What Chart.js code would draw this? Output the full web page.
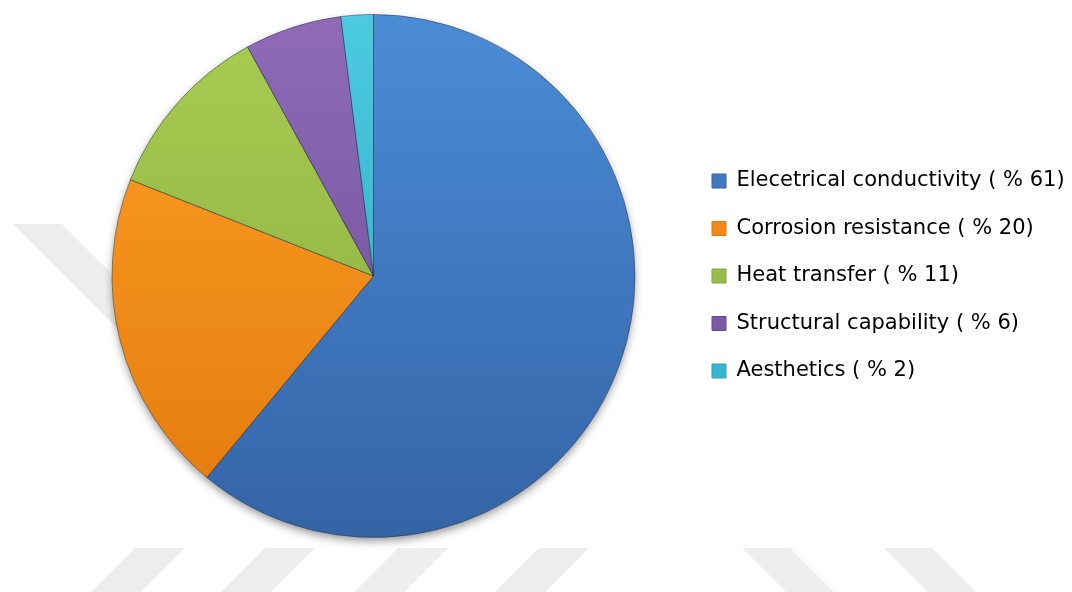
<!DOCTYPE html>
<html lang="en">
<head>
    <meta charset="UTF-8">
    <title>Property Shares</title>
    <script src="https://cdn.jsdelivr.net/npm/chart.js"></script>
    <style>
        body {
            margin: 0;
            background: #ffffff;
        }
        #pieChart {
            display: block;
        }
    </style>
</head>
<body>
    <canvas id="pieChart" width="1072" height="592"></canvas>

    <script>
        // Shares in percent
        const categories = [
            'Elecetrical conductivity',
            'Corrosion resistance',
            'Heat transfer',
            'Structural capability',
            'Aesthetics'
        ];
        const shares = [61, 20, 11, 6, 2];
        const labels = categories.map((name, i) => `${name} ( % ${shares[i]})`);

        // top / bottom shade of each slice
        const topColors = ['#4b8cd7', '#ffa126', '#a9cc52', '#8f6bb8', '#4ccae0'];
        const bottomColors = ['#3464a6', '#e2790c', '#86aa3c', '#684a90', '#2aa2bf'];
        const legendColors = ['#4279c2', '#f38a18', '#98bd48', '#7b5aa4', '#38b5d0'];

        // Slice fill: vertical gradient across the chart area
        function sliceFill(ctx) {
            const area = ctx.chart.chartArea;
            const i = ctx.dataIndex;
            if (!area) return legendColors[i];
            const g = ctx.chart.ctx.createLinearGradient(0, area.top, 0, area.bottom);
            g.addColorStop(0, topColors[i]);
            g.addColorStop(1, bottomColors[i]);
            return g;
        }

        // Light grey diagonal stripes in the background
        const stripesPlugin = {
            id: 'stripes',
            beforeDraw(chart) {
                const c = chart.ctx;
                c.save();
                c.fillStyle = '#eeeeee';
                const quad = (pts) => {
                    c.beginPath();
                    c.moveTo(pts[0][0], pts[0][1]);
                    pts.slice(1).forEach(p => c.lineTo(p[0], p[1]));
                    c.closePath();
                    c.fill();
                };
                // "/" stripes along the bottom edge
                [135, 265, 398, 539].forEach(x => {
                    quad([[x, 548], [x + 50, 548], [x + 5, 593], [x - 45, 593]]);
                });
                // "\" stripes along the bottom edge
                [742, 884].forEach(x => {
                    quad([[x, 548], [x + 48, 548], [x + 93, 593], [x + 45, 593]]);
                });
                // stripe on the left, mostly behind the pie
                quad([[13, 224], [62, 224], [170, 332], [121, 332]]);
                c.restore();
            }
        };

        // Soft drop shadow under the pie
        const shadowPlugin = {
            id: 'pieShadow',
            beforeDatasetsDraw(chart) {
                const arc = chart.getDatasetMeta(0).data[0];
                if (!arc) return;
                const c = chart.ctx;
                c.save();
                c.shadowColor = 'rgba(0, 0, 0, 0.45)';
                c.shadowBlur = 10;
                c.shadowOffsetY = 4;
                c.fillStyle = '#3a5f90';
                c.beginPath();
                c.arc(arc.x, arc.y, arc.outerRadius - 1, 0, Math.PI * 2);
                c.fill();
                c.restore();
            }
        };

        // Fixed legend column width so the pie keeps its place
        const legendWidthPlugin = {
            id: 'legendWidth',
            beforeInit(chart) {
                const legend = chart.legend;
                if (!legend) return;
                const fit = legend.fit;
                legend.fit = function () {
                    fit.call(this);
                    this.width = 386.5;
                };
            }
        };

        new Chart(document.getElementById('pieChart'), {
            type: 'pie',
            data: {
                labels: labels,
                datasets: [{
                    data: shares,
                    backgroundColor: sliceFill,
                    borderColor: 'rgba(30, 40, 60, 0.45)',
                    borderWidth: 1,
                    hoverOffset: 0
                }]
            },
            options: {
                responsive: false,
                animation: false,
                layout: {
                    padding: { left: 61.5, top: 14, bottom: 54, right: 0 }
                },
                plugins: {
                    tooltip: { enabled: false },
                    legend: {
                        position: 'right',
                        align: 'center',
                        labels: {
                            boxWidth: 14,
                            boxHeight: 14,
                            padding: 26.5,
                            color: '#222222',
                            font: { family: 'DejaVu Sans', size: 21 },
                            generateLabels(chart) {
                                return chart.data.labels.map((text, i) => ({
                                    text: text,
                                    fillStyle: legendColors[i],
                                    strokeStyle: bottomColors[i],
                                    lineWidth: 1,
                                    hidden: false,
                                    index: i
                                }));
                            }
                        }
                    }
                }
            },
            plugins: [stripesPlugin, shadowPlugin, legendWidthPlugin]
        });
    </script>
</body>
</html>
